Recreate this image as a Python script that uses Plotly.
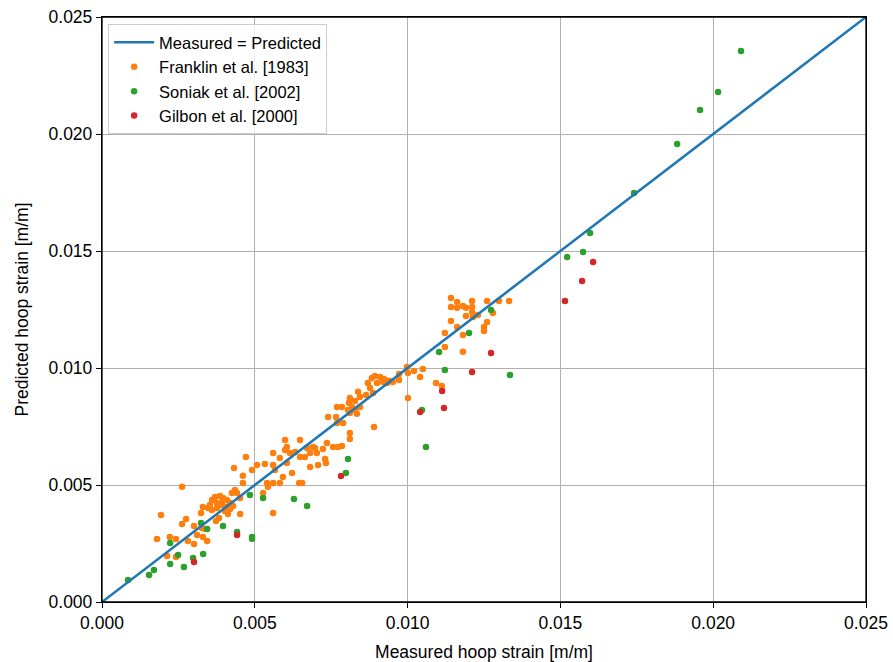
import plotly.graph_objects as go

# Franklin et al. [1983]
franklin_x = [0.00180, 0.00193, 0.00213, 0.00222, 0.00242, 0.00242, 0.00262, 0.00262, 0.00275, 0.00281,
              0.00301, 0.00301, 0.00311, 0.00324, 0.00327, 0.00330, 0.00330, 0.00337, 0.00344, 0.00347,
              0.00360, 0.00370, 0.00373, 0.00376, 0.00376, 0.00383, 0.00386, 0.00393, 0.00396, 0.00409,
              0.00412, 0.00419, 0.00425, 0.00432, 0.00435, 0.00442, 0.00452, 0.00452, 0.00461, 0.00461,
              0.00471, 0.00491, 0.00507, 0.00533, 0.00527, 0.00540, 0.00543, 0.00560, 0.00560, 0.00560,
              0.00560, 0.00566, 0.00582, 0.00582, 0.00592, 0.00599, 0.00599, 0.00605, 0.00605, 0.00615,
              0.00622, 0.00632, 0.00645, 0.00655, 0.00648, 0.00648, 0.00664, 0.00671, 0.00681, 0.00681,
              0.00690, 0.00697, 0.00703, 0.00707, 0.00723, 0.00730, 0.00733, 0.00736, 0.00756, 0.00772,
              0.00785, 0.00740, 0.00766, 0.00769, 0.00769, 0.00785, 0.00789, 0.00805, 0.00808, 0.00811,
              0.00811, 0.00811, 0.00811, 0.00818, 0.00828, 0.00828, 0.00834, 0.00838, 0.00844, 0.00844,
              0.00864, 0.00870, 0.00877, 0.00883, 0.00887, 0.00890, 0.00893, 0.00900, 0.00910, 0.00919,
              0.00923, 0.00933, 0.00939, 0.00952, 0.00972, 0.00972, 0.00998, 0.01001, 0.01001, 0.01021,
              0.01041, 0.01050, 0.01093, 0.01112, 0.01122, 0.01122, 0.01142, 0.01142, 0.01142, 0.01162,
              0.01162, 0.01162, 0.01181, 0.01181, 0.01181, 0.01191, 0.01191, 0.01211, 0.01211, 0.01211,
              0.01214, 0.01230, 0.01250, 0.01250, 0.01260, 0.01260, 0.01279, 0.01299, 0.01332,
              0.00393, 0.00406, 0.00402, 0.00429, 0.00360, 0.00353, 0.00419]
franklin_y = [0.00269, 0.00372, 0.00197, 0.00278, 0.00269, 0.00192, 0.00492, 0.00333, 0.00355, 0.00261,
              0.00248, 0.00325, 0.00286, 0.00380, 0.00316, 0.00406, 0.00278, 0.00312, 0.00261, 0.00402,
              0.00436, 0.00449, 0.00346, 0.00423, 0.00402, 0.00359, 0.00453, 0.00427, 0.00444, 0.00436,
              0.00376, 0.00423, 0.00466, 0.00573, 0.00479, 0.00466, 0.00444, 0.00376, 0.00539, 0.00509,
              0.00620, 0.00564, 0.00586, 0.00590, 0.00466, 0.00509, 0.00492, 0.00637, 0.00586, 0.00509,
              0.00380, 0.00564, 0.00615, 0.00509, 0.00534, 0.00692, 0.00650, 0.00594, 0.00662, 0.00637,
              0.00551, 0.00641, 0.00509, 0.00509, 0.00692, 0.00620, 0.00620, 0.00658, 0.00637, 0.00577,
              0.00662, 0.00658, 0.00637, 0.00586, 0.00654, 0.00611, 0.00594, 0.00680, 0.00662, 0.00662,
              0.00667, 0.00791, 0.00791, 0.00833, 0.00765, 0.00833, 0.00765, 0.00821, 0.00851, 0.00872,
              0.00808, 0.00722, 0.00697, 0.00833, 0.00859, 0.00821, 0.00804, 0.00898, 0.00876, 0.00833,
              0.00885, 0.00936, 0.00915, 0.00957, 0.00893, 0.00748, 0.00966, 0.00936, 0.00962, 0.00940,
              0.00953, 0.00936, 0.00945, 0.00940, 0.00949, 0.00974, 0.01004, 0.00872, 0.00979, 0.00987,
              0.00962, 0.00996, 0.00936, 0.00923, 0.01150, 0.01090, 0.01299, 0.01261, 0.01201, 0.01282,
              0.01257, 0.01175, 0.01265, 0.01141, 0.01069, 0.01257, 0.01222, 0.01286, 0.01261, 0.01239,
              0.01218, 0.01227, 0.01175, 0.01158, 0.01286, 0.01197, 0.01235, 0.01286, 0.01286,
              0.00415, 0.00406, 0.00389, 0.00410, 0.00393, 0.00415, 0.00397]

# Soniak et al. [2002]
soniak_x = [0.00085, 0.00154, 0.00170, 0.00223, 0.00268, 0.00223, 0.00249, 0.00298, 0.00331, 0.00324,
            0.00344, 0.00396, 0.00442, 0.00491, 0.00491, 0.00484, 0.00527, 0.00628, 0.00671, 0.00805,
            0.00798, 0.01047, 0.01060, 0.01273, 0.01201, 0.01103, 0.01122, 0.01335, 0.01522, 0.01574,
            0.01597, 0.01741, 0.01882, 0.01957, 0.02016, 0.02091]
soniak_y = [0.00094, 0.00115, 0.00137, 0.00162, 0.00150, 0.00252, 0.00201, 0.00188, 0.00205, 0.00338,
            0.00312, 0.00325, 0.00299, 0.00278, 0.00270, 0.00457, 0.00444, 0.00440, 0.00410, 0.00611,
            0.00551, 0.00821, 0.00662, 0.01248, 0.01150, 0.01068, 0.00991, 0.00970, 0.01474, 0.01496,
            0.01577, 0.01748, 0.01957, 0.02103, 0.02180, 0.02355]

# Gilbon et al. [2000]
gilbon_x = [0.00301, 0.00442, 0.00782, 0.01041, 0.01273, 0.01211, 0.01113, 0.01119, 0.01515, 0.01571, 0.01607]
gilbon_y = [0.00171, 0.00286, 0.00538, 0.00812, 0.01064, 0.00983, 0.00902, 0.00829, 0.01286, 0.01372, 0.01453]

line_x = [0.0, 0.025]
line_y = [0.0, 0.025]

tick_vals = [0.0, 0.005, 0.010, 0.015, 0.020, 0.025]
tick_text = ["0.000", "0.005", "0.010", "0.015", "0.020", "0.025"]

FONT = "Arial, Liberation Sans, sans-serif"

fig = go.Figure()
msize = 6.5
fig.add_trace(go.Scatter(x=franklin_x, y=franklin_y, mode="markers", name="Franklin et al. [1983]",
                         marker=dict(color="#ff7f0e", size=msize), legendrank=2))
fig.add_trace(go.Scatter(x=soniak_x, y=soniak_y, mode="markers", name="Soniak et al. [2002]",
                         marker=dict(color="#2ca02c", size=msize), legendrank=3))
fig.add_trace(go.Scatter(x=gilbon_x, y=gilbon_y, mode="markers", name="Gilbon et al. [2000]",
                         marker=dict(color="#d62728", size=msize), legendrank=4))
fig.add_trace(go.Scatter(x=line_x, y=line_y, mode="lines", name="Measured = Predicted",
                         line=dict(color="#1f77b4", width=2.5), legendrank=1))

axis_common = dict(
    range=[0, 0.025], tickvals=tick_vals, ticktext=tick_text,
    showgrid=True, gridcolor="#b0b0b0", gridwidth=1,
    showline=True, linecolor="black", linewidth=1.3, mirror=True,
    ticks="outside", ticklen=5, tickcolor="black", tickwidth=1.2,
    zeroline=False, automargin=False, ticklabeloverflow="allow",
    tickfont=dict(family=FONT, size=17.5, color="black"),
)

fig.update_xaxes(**axis_common, title=dict(text="Measured hoop strain [m/m]",
                                           font=dict(family=FONT, size=17.5, color="black")))
fig.update_yaxes(**axis_common, title=dict(text="Predicted hoop strain [m/m]",
                                           font=dict(family=FONT, size=17.5, color="black")))

# explicit frame around the plotting area
fig.add_shape(type="rect", xref="paper", yref="paper", x0=0, y0=0, x1=1, y1=1,
              line=dict(color="black", width=1.3), layer="above")

fig.update_layout(
    width=893, height=662,
    margin=dict(l=102, r=27, t=17, b=60),
    plot_bgcolor="white", paper_bgcolor="white",
    font=dict(family=FONT, color="black"),
    legend=dict(x=0.008, y=0.988, xanchor="left", yanchor="top",
                bgcolor="rgba(255,255,255,0.8)", bordercolor="#cccccc", borderwidth=1,
                font=dict(family=FONT, size=16.5, color="black"), itemwidth=40,
                tracegroupgap=0),
    showlegend=True,
)

# remove the default page margin so the figure fills the window exactly
fig.write_html("out.html", config={"displayModeBar": False},
               post_script="document.body.style.margin='0';document.body.style.overflow='hidden';")
